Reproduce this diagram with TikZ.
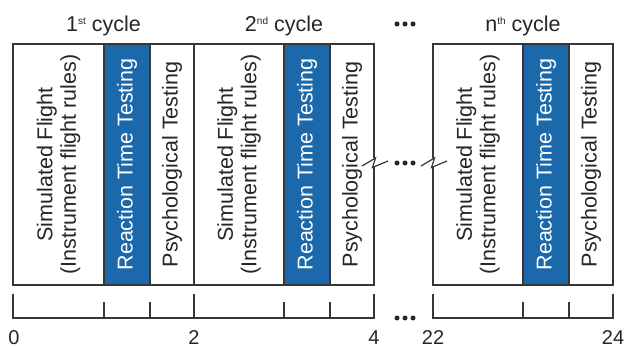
\documentclass[tikz,border=0pt]{standalone}
\usepackage{fontspec}
\setmainfont{Liberation Sans}
\definecolor{blu}{RGB}{27,105,170}
\definecolor{ln}{RGB}{55,55,55}
\tikzset{
  cell/.style={draw=ln, line width=1.2pt, fill=white, inner sep=0pt, rotate=90,
    minimum width=241pt, align=center, font=\fontsize{21.5}{23.5}\selectfont, text=black!85},
  bluecell/.style={cell, fill=blu, text=white},
  ttl/.style={anchor=base, inner sep=0pt, font=\fontsize{21.5}{21.5}\selectfont, text=black!85},
  num/.style={anchor=base, inner sep=0pt, font=\fontsize{20}{20}\selectfont, text=black!85},
  rule/.style={draw=ln, line width=1.2pt},
  dot/.style={circle, fill=black!85, inner sep=0pt, minimum size=5pt},
}
\newcommand{\sups}[1]{\raisebox{7.5pt}{\fontsize{10}{10}\selectfont #1}}
\begin{document}
\begin{tikzpicture}[x=1pt,y=-1pt]
\useasboundingbox (0,0) rectangle (627,347);
% cycle 1
\node[cell, minimum height=91pt] (a1) at (58.5,164.5) {Simulated Flight\\(Instrument flight rules)};
\node[bluecell, minimum height=46pt] (a2) at (127,164.5) {Reaction Time Testing};
\node[cell, minimum height=44pt] (a3) at (172,164.5) {Psychological Testing};
% cycle 2
\node[cell, minimum height=90pt] (b1) at (239,164.5) {Simulated Flight\\(Instrument flight rules)};
\node[bluecell, minimum height=46pt] (b2) at (307,164.5) {Reaction Time Testing};
\node[cell, minimum height=44pt] (b3) at (352,164.5) {Psychological Testing};
% cycle n
\node[cell, minimum height=90pt] (c1) at (478,164.5) {Simulated Flight\\(Instrument flight rules)};
\node[bluecell, minimum height=46pt] (c2) at (546,164.5) {Reaction Time Testing};
\node[cell, minimum height=44pt] (c3) at (591,164.5) {Psychological Testing};
% break marks
\fill[white] (370,158.5) rectangle (378,166.5);
\fill[white] (429,158.5) rectangle (437,166.5);
\draw[rule, line join=miter] (362,166) -- (375.5,158) -- (372.5,167.5) -- (388,161);
\draw[rule, line join=miter] (421,166) -- (434.5,158) -- (431.5,167.5) -- (447,161);
% titles
\node[ttl] (t1) at (103.5,32) {1\sups{st} cycle};
\node[ttl] (t2) at (284,32) {2\sups{nd} cycle};
\node[ttl] (t3) at (523,32) {n\sups{th} cycle};
% dots
\foreach \y/\n in {24/top,163/mid,318/bot}{
  \node[dot] (\n1) at (397,\y) {};
  \node[dot] (\n2) at (405,\y) {};
  \node[dot] (\n3) at (413,\y) {};
}
% ruler
\draw[rule] (13,294) -- (13,318) -- (374,318) -- (374,294);
\draw[rule] (194,294) -- (194,318);
\draw[rule] (433,294) -- (433,318) -- (613,318) -- (613,294);
\foreach \x in {104,150,284,330,523,569}{
  \draw[rule] (\x,302) -- (\x,318);
}
% numbers
\node[num] (n0) at (14,345) {0};
\node[num] (n2) at (194,345) {2};
\node[num] (n4) at (374,345) {4};
\node[num] (n22) at (433,345) {22};
\node[num] (n24) at (613,345) {24};
\end{tikzpicture}
\end{document}
